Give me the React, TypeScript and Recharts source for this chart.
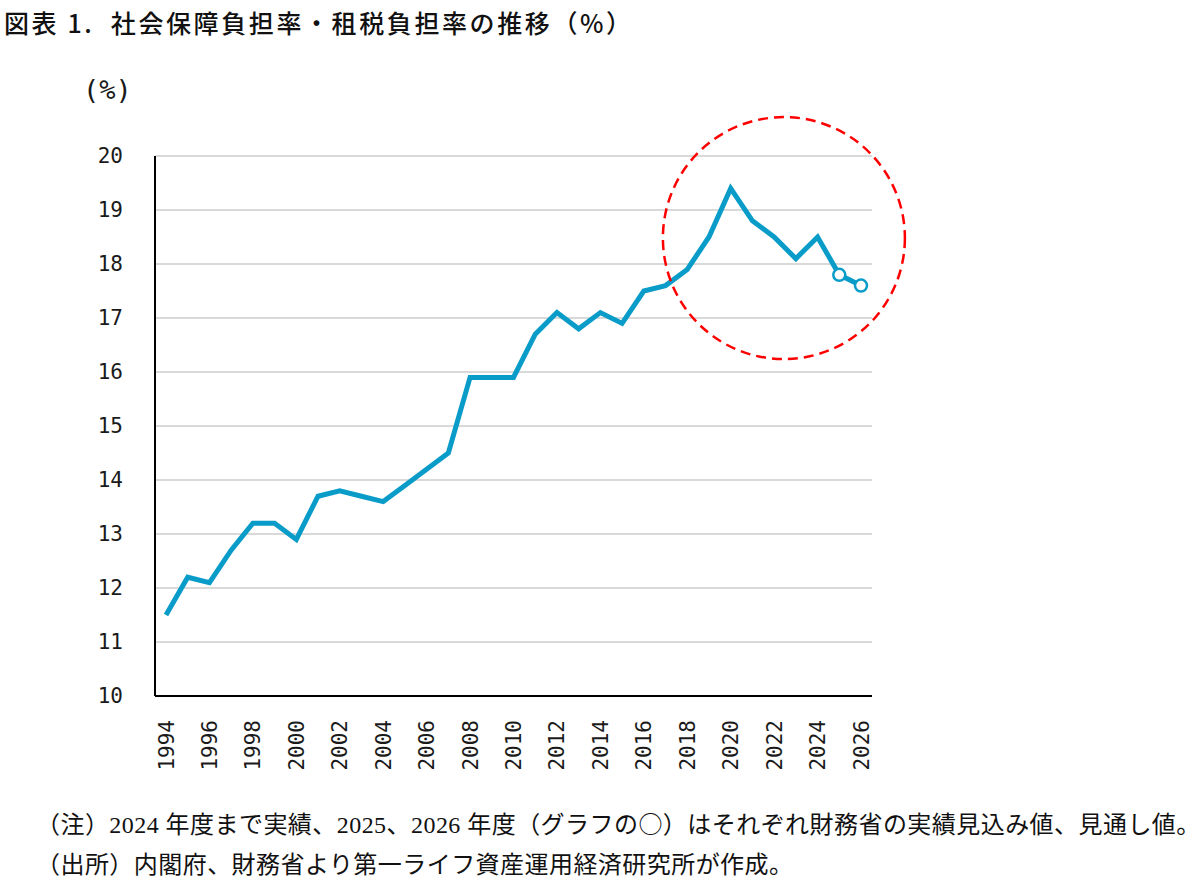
import React from "react";
import { LineChart, Line, XAxis, YAxis, CartesianGrid, ReferenceDot } from "recharts";

// Fiscal years and the combined social-security + tax burden ratio (%)
const YEARS = [
  "1994", "1995", "1996", "1997", "1998", "1999", "2000", "2001", "2002", "2003", "2004",
  "2005", "2006", "2007", "2008", "2009", "2010", "2011", "2012", "2013", "2014", "2015",
  "2016", "2017", "2018", "2019", "2020", "2021", "2022", "2023", "2024", "2025", "2026",
];
const BURDEN_RATIO = [
  11.5, 12.2, 12.1, 12.7, 13.2, 13.2, 12.9, 13.7, 13.8, 13.7, 13.6,
  13.9, 14.2, 14.5, 15.9, 15.9, 15.9, 16.7, 17.1, 16.8, 17.1, 16.9,
  17.5, 17.6, 17.9, 18.5, 19.4, 18.8, 18.5, 18.1, 18.5, 17.8, 17.6,
];
// Ministry of Finance estimate / outlook years (drawn as open circles)
const ESTIMATE_YEARS = ["2025", "2026"];
const X_TICKS = YEARS.filter((_, i) => i % 2 === 0);
const Y_TICKS = [10, 11, 12, 13, 14, 15, 16, 17, 18, 19, 20];

// Dashed highlight ring around the recent years
const RING_YEAR = "2022";
const RING_VALUE = 18.48;
const RING_SHIFT_STEPS = 0.45;

const TITLE = "図表 1.  社会保障負担率・租税負担率の推移（%）";
const NOTE_HEAD = "（注）2024 年度まで実績、2025、2026 年度（グラフの";
const NOTE_MARK = "○";
const NOTE_TAIL = "）はそれぞれ財務省の実績見込み値、見通し値。";
const SOURCE = "（出所）内閣府、財務省より第一ライフ資産運用経済研究所が作成。";

const data = YEARS.map((year, i) => ({ year, value: BURDEN_RATIO[i] }));

const LINE_COLOR = "#0a9cc8";
const TICK_FONT = "'DejaVu Sans Mono', monospace";
const CJK_FONT = "'Noto Sans CJK JP', sans-serif";

const CHART_W = 940;
const CHART_H = 790;
const MARGIN = { top: 156, right: 68, bottom: 0, left: 0 };
const Y_AXIS_W = 155;
const X_PAD = 11;
const PLOT_W = CHART_W - MARGIN.left - MARGIN.right - Y_AXIS_W;
const STEP = (PLOT_W - 2 * X_PAD) / (YEARS.length - 1);

const XTick = (props: any) => {
  const { x, y, payload } = props;
  const ty = y + 24;
  return (
    <text
      x={x}
      y={ty}
      transform={`rotate(-90, ${x}, ${ty})`}
      textAnchor="end"
      dy="0.36em"
      fontFamily={TICK_FONT}
      fontSize={21}
      fill="#1a1a1a"
    >
      {payload.value}
    </text>
  );
};

const EstimateDot = (props: any) => {
  const { cx, cy, payload, index } = props;
  if (!ESTIMATE_YEARS.includes(payload.year)) return <g key={`d-${index}`} />;
  return (
    <circle key={`d-${index}`} cx={cx} cy={cy} r={6} fill="#fff" stroke={LINE_COLOR} strokeWidth={2.5} />
  );
};

const Ring = (props: any) => {
  const { cx, cy, r } = props;
  return (
    <circle
      cx={cx + RING_SHIFT_STEPS * STEP}
      cy={cy}
      r={r}
      fill="none"
      stroke="#ff0000"
      strokeWidth={2.5}
      strokeDasharray="10 6"
    />
  );
};

export default function App() {
  return (
    <div
      style={{
        position: "absolute",
        left: 0,
        top: 0,
        width: 1201,
        height: 886,
        background: "#fff",
        overflow: "hidden",
      }}
    >
      <div
        style={{
          position: "absolute",
          left: 4,
          top: 4,
          fontFamily: CJK_FONT,
          fontSize: 25,
          fontWeight: 500,
          letterSpacing: 2.6,
          color: "#111",
          whiteSpace: "pre",
        }}
      >
        {TITLE}
      </div>
      <div
        style={{
          position: "absolute",
          left: 83,
          top: 74,
          fontFamily: TICK_FONT,
          fontSize: 27,
          color: "#1a1a1a",
        }}
      >
        (%)
      </div>
      <div style={{ position: "absolute", left: 0, top: 0 }}>
        <LineChart width={CHART_W} height={CHART_H} data={data} margin={MARGIN}>
          <CartesianGrid vertical={false} stroke="#d9d9d9" strokeWidth={2} />
          <XAxis
            dataKey="year"
            ticks={X_TICKS}
            interval={0}
            padding={{ left: X_PAD, right: X_PAD }}
            tickLine={false}
            tickSize={0}
            tickMargin={0}
            axisLine={{ stroke: "#000", strokeWidth: 2 }}
            height={CHART_H - MARGIN.top - 540}
            tick={<XTick />}
          />
          <YAxis
            domain={[10, 20]}
            ticks={Y_TICKS}
            interval={0}
            width={Y_AXIS_W}
            tickLine={false}
            tickSize={0}
            tickMargin={32}
            axisLine={{ stroke: "#000", strokeWidth: 2 }}
            tick={{ fontFamily: TICK_FONT, fontSize: 21, fill: "#1a1a1a" }}
          />
          <Line
            type="linear"
            dataKey="value"
            stroke={LINE_COLOR}
            strokeWidth={5}
            dot={<EstimateDot />}
            activeDot={false}
            isAnimationActive={false}
          />
          <ReferenceDot
            x={RING_YEAR}
            y={RING_VALUE}
            r={121}
            ifOverflow="visible"
            shape={<Ring />}
          />
        </LineChart>
      </div>
      <div
        style={{
          position: "absolute",
          left: 36,
          top: 803,
          fontFamily: "'Liberation Serif', 'Noto Sans CJK JP', serif",
          fontSize: 24,
          letterSpacing: 0.45,
          color: "#111",
          whiteSpace: "pre",
          lineHeight: "40px",
        }}
      >
        <div>
          {NOTE_HEAD}
          <span style={{ fontFamily: CJK_FONT }}>{NOTE_MARK}</span>
          {NOTE_TAIL}
        </div>
        <div>{SOURCE}</div>
      </div>
    </div>
  );
}
